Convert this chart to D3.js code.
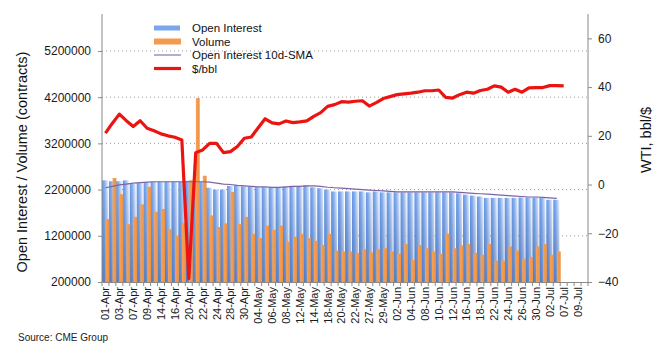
<!DOCTYPE html>
<html>
<head>
<meta charset="utf-8">
<script src="https://cdnjs.cloudflare.com/ajax/libs/d3/7.8.5/d3.min.js"></script>
<style>
  html, body { margin: 0; padding: 0; background: #fff; }
  svg { display: block; font-family: 'Liberation Sans', Arial, sans-serif; }
</style>
</head>
<body>
<svg id="chart" width="661" height="352"></svg>
<script>
// trading days on the x axis (last one is an empty slot)
const dates = [
  '01-Apr', '02-Apr', '03-Apr', '06-Apr', '07-Apr', '08-Apr', '09-Apr', '13-Apr', '14-Apr', '15-Apr',
  '16-Apr', '17-Apr', '20-Apr', '21-Apr', '22-Apr', '23-Apr', '24-Apr', '27-Apr', '28-Apr', '29-Apr',
  '30-Apr', '01-May', '04-May', '05-May', '06-May', '07-May', '08-May', '11-May', '12-May', '13-May',
  '14-May', '15-May', '18-May', '19-May', '20-May', '21-May', '22-May', '26-May', '27-May', '28-May',
  '29-May', '01-Jun', '02-Jun', '03-Jun', '04-Jun', '05-Jun', '08-Jun', '09-Jun', '10-Jun', '11-Jun',
  '12-Jun', '15-Jun', '16-Jun', '17-Jun', '18-Jun', '19-Jun', '22-Jun', '23-Jun', '24-Jun', '25-Jun',
  '26-Jun', '29-Jun', '30-Jun', '01-Jul', '02-Jul', '06-Jul', '07-Jul', '08-Jul', '09-Jul', '10-Jul',
];

const tickLabels = [
  '01-Apr', '03-Apr', '07-Apr', '09-Apr', '14-Apr', '16-Apr', '20-Apr', '22-Apr', '24-Apr', '28-Apr',
  '30-Apr', '04-May', '06-May', '08-May', '12-May', '14-May', '18-May', '20-May', '22-May', '27-May',
  '29-May', '02-Jun', '04-Jun', '08-Jun', '10-Jun', '12-Jun', '16-Jun', '18-Jun', '22-Jun', '24-Jun',
  '26-Jun', '30-Jun', '02-Jul', '07-Jul', '09-Jul',
];

const openInterest = [
  2400000, 2380000, 2380000, 2400000, 2320000, 2340000, 2360000, 2370000, 2370000, 2370000,
  2370000, 2370000, 2390000, 2380000, 2370000, 2240000, 2200000, 2200000, 2280000, 2290000,
  2270000, 2260000, 2250000, 2250000, 2250000, 2250000, 2260000, 2280000, 2280000, 2290000,
  2250000, 2230000, 2200000, 2160000, 2160000, 2160000, 2160000, 2160000, 2140000, 2160000,
  2140000, 2140000, 2140000, 2140000, 2140000, 2140000, 2140000, 2140000, 2140000, 2140000,
  2140000, 2120000, 2090000, 2070000, 2050000, 2020000, 2020000, 2020000, 2020000, 2020000,
  2030000, 2030000, 2030000, 2020000, 1980000, 1980000,
];

const volume = [
  1560000, 2450000, 2100000, 1450000, 1610000, 1880000, 2260000, 1720000, 1780000, 1340000,
  1200000, 1470000, 2400000, 4180000, 2500000, 1640000, 1390000, 1470000, 2150000, 1450000,
  1610000, 1240000, 1150000, 1420000, 1330000, 1420000, 1070000, 1180000, 1240000, 1150000,
  1090000, 1000000, 1240000, 880000, 860000, 860000, 830000, 910000, 840000, 910000,
  930000, 860000, 810000, 1020000, 680000, 1000000, 930000, 860000, 810000, 1250000,
  930000, 990000, 1020000, 830000, 790000, 1020000, 660000, 660000, 970000, 880000,
  700000, 740000, 970000, 1020000, 790000, 860000,
];

const oiSma = [
  2240000, 2270000, 2300000, 2320000, 2340000, 2350000, 2360000, 2370000, 2370000, 2370000,
  2370000, 2370000, 2370000, 2370000, 2370000, 2360000, 2340000, 2320000, 2310000, 2290000,
  2280000, 2270000, 2260000, 2260000, 2250000, 2250000, 2260000, 2270000, 2270000, 2280000,
  2280000, 2270000, 2250000, 2240000, 2230000, 2220000, 2210000, 2200000, 2190000, 2180000,
  2170000, 2160000, 2150000, 2150000, 2150000, 2150000, 2150000, 2150000, 2150000, 2150000,
  2150000, 2140000, 2130000, 2120000, 2110000, 2100000, 2090000, 2080000, 2070000, 2060000,
  2050000, 2040000, 2040000, 2030000, 2020000, 2010000,
];

// WTI $/bbl
const wti = [
  21.1, 25.2, 28.9, 26.2, 23.8, 26.2, 23.1, 22.1, 20.8, 20.0,
  19.4, 18.3, -38.6, 13.1, 14.2, 16.9, 16.9, 13.1, 13.5, 15.6,
  19.0, 19.5, 23.3, 27.0, 25.3, 24.9, 26.1, 25.4, 25.7, 26.1,
  28.0, 29.5, 32.1, 32.8, 34.0, 33.8, 34.2, 34.4, 32.2, 33.6,
  35.3, 36.1, 36.9, 37.2, 37.5, 37.9, 38.5, 38.5, 38.8, 35.8,
  35.5, 36.9, 37.9, 37.5, 38.6, 39.1, 40.5, 40.0, 37.9, 39.1,
  37.9, 39.7, 39.8, 39.8, 40.6, 40.6, 40.5,
];

const leftTicks = [200000, 1200000, 2200000, 3200000, 4200000, 5200000];
const rightTicks = [-40, -20, 0, 20, 40, 60];

const svg = d3.select('#chart');

const margin = { top: 14, right: 73, bottom: 70, left: 102 };
const width = +svg.attr('width') - margin.left - margin.right;
const height = +svg.attr('height') - margin.top - margin.bottom;

const g = svg.append('g').attr('transform', `translate(${margin.left}, ${margin.top})`);

// Scales
const x = d3.scaleBand().domain(dates).range([0, width]).padding(0);
const bw = x.bandwidth();
const yLeft = d3.scaleLinear().domain([200000, 6000000]).range([height, 0]);
const yRight = d3.scaleLinear().domain([-40, 70]).range([height, 0]);

// Gradients
const defs = svg.append('defs');
const oiGrad = defs.append('linearGradient').attr('id', 'oiGrad').attr('x1', 0).attr('x2', 1).attr('y1', 0).attr('y2', 0);
oiGrad.append('stop').attr('offset', '0%').attr('stop-color', '#6797e4');
oiGrad.append('stop').attr('offset', '40%').attr('stop-color', '#86afee');
oiGrad.append('stop').attr('offset', '100%').attr('stop-color', '#edf3fd');
const shade = defs.append('linearGradient').attr('id', 'oiShade').attr('x1', 0).attr('x2', 0).attr('y1', 0).attr('y2', 1);
shade.append('stop').attr('offset', '0%').attr('stop-color', '#2a4f96').attr('stop-opacity', 0);
shade.append('stop').attr('offset', '100%').attr('stop-color', '#2a4f96').attr('stop-opacity', 0.45);
const volGrad = defs.append('linearGradient').attr('id', 'volGrad').attr('x1', 0).attr('x2', 1).attr('y1', 0).attr('y2', 0);
volGrad.append('stop').attr('offset', '0%').attr('stop-color', '#f6a258');
volGrad.append('stop').attr('offset', '100%').attr('stop-color', '#ec9143');

// Gridlines
g.append('g')
  .selectAll('line')
  .data(leftTicks.slice(1))
  .enter()
  .append('line')
  .attr('x1', 0)
  .attr('x2', width)
  .attr('y1', (d) => yLeft(d))
  .attr('y2', (d) => yLeft(d))
  .attr('stroke', '#9a9a9a')
  .attr('stroke-width', 1)
  .attr('stroke-dasharray', '1,3');

// Open interest bars
const oiBars = g.append('g');
oiBars
  .selectAll('.oi')
  .data(openInterest)
  .enter()
  .append('rect')
  .attr('class', 'oi')
  .attr('x', (d, i) => x(dates[i]))
  .attr('y', (d) => yLeft(d))
  .attr('width', bw * 0.88)
  .attr('height', (d) => height - yLeft(d))
  .attr('fill', 'url(#oiGrad)');
oiBars
  .selectAll('.oiShade')
  .data(openInterest)
  .enter()
  .append('rect')
  .attr('class', 'oiShade')
  .attr('x', (d, i) => x(dates[i]))
  .attr('y', (d) => yLeft(d))
  .attr('width', bw * 0.88)
  .attr('height', (d) => height - yLeft(d))
  .attr('fill', 'url(#oiShade)');

// Volume bars
g.append('g')
  .selectAll('.vol')
  .data(volume)
  .enter()
  .append('rect')
  .attr('class', 'vol')
  .attr('x', (d, i) => x(dates[i]) + bw * 0.52)
  .attr('y', (d) => yLeft(d))
  .attr('width', bw * 0.55)
  .attr('height', (d) => height - yLeft(d))
  .attr('fill', 'url(#volGrad)');

// 10d SMA line
const smaLine = d3
  .line()
  .x((d, i) => x(dates[i]) + bw / 2)
  .y((d) => yLeft(d));
g.append('path')
  .datum(oiSma)
  .attr('d', smaLine)
  .attr('fill', 'none')
  .attr('stroke', '#7e62a6')
  .attr('stroke-width', 1.2);

// WTI line
const priceLine = d3
  .line()
  .x((d, i) => x(dates[i]) + bw / 2)
  .y((d) => yRight(d));
g.append('path')
  .datum(wti)
  .attr('d', priceLine)
  .attr('fill', 'none')
  .attr('stroke', '#ec1410')
  .attr('stroke-width', 3.2)
  .attr('stroke-linejoin', 'round');

// Axes
const axisColor = '#8a8a8a';
const styleAxis = (sel) => {
  sel.select('.domain').attr('stroke', axisColor);
  sel.selectAll('.tick line').attr('stroke', axisColor);
  sel.selectAll('.tick text').attr('fill', '#1a1a1a').style('font-size', '12px');
};

g.append('g')
  .call(d3.axisLeft(yLeft).tickValues(leftTicks).tickSize(4).tickSizeOuter(0).tickPadding(7).tickFormat(d3.format('d')))
  .call(styleAxis)
  .call((a) => a.select('.domain').attr('d', `M0,${height}V0`));

g.append('g')
  .attr('transform', `translate(${width}, 0)`)
  .call(d3.axisRight(yRight).tickValues(rightTicks).tickSize(4).tickSizeOuter(0).tickPadding(6))
  .call(styleAxis)
  .call((a) => a.select('.domain').attr('d', `M0,${height}V0`));

const xAxis = g
  .append('g')
  .attr('transform', `translate(0, ${height})`)
  .call(d3.axisBottom(x).tickSize(0).tickSizeOuter(0).tickFormat((d) => (tickLabels.includes(d) ? d : '')))
  .call(styleAxis);
xAxis
  .selectAll('.tick text')
  .attr('transform', 'rotate(-90)')
  .attr('text-anchor', 'end')
  .attr('x', -5)
  .attr('y', 0)
  .attr('dy', '0.36em')
  .style('font-size', '11px');

// category boundary ticks
xAxis
  .append('g')
  .selectAll('line')
  .data(d3.range(dates.length + 1))
  .enter()
  .append('line')
  .attr('x1', (d) => d * bw)
  .attr('x2', (d) => d * bw)
  .attr('y1', 0)
  .attr('y2', 4)
  .attr('stroke', axisColor);

// Axis titles
svg
  .append('text')
  .attr('transform', `translate(27, ${margin.top + height / 2 + 14}) rotate(-90)`)
  .attr('text-anchor', 'middle')
  .style('font-size', '14.5px')
  .attr('fill', '#111')
  .text('Open Interest / Volume (contracts)');

svg
  .append('text')
  .attr('transform', `translate(651, 140) rotate(-90)`)
  .attr('text-anchor', 'middle')
  .style('font-size', '14.5px')
  .attr('fill', '#111')
  .text('WTI, bbl/$');

// Legend
const legendItems = [
  { name: 'Open Interest', type: 'oi' },
  { name: 'Volume', type: 'vol' },
  { name: 'Open Interest 10d-SMA', type: 'sma' },
  { name: '$/bbl', type: 'price' },
];
const legend = svg.append('g').attr('transform', 'translate(154, 28)');
legendItems.forEach((item, i) => {
  const row = legend.append('g').attr('transform', `translate(0, ${i * 13.5})`);
  if (item.type === 'oi') {
    row.append('rect').attr('x', 0).attr('y', -2.5).attr('width', 26).attr('height', 5).attr('fill', '#7aa6ec');
  } else if (item.type === 'vol') {
    row.append('rect').attr('x', 0).attr('y', -3).attr('width', 27).attr('height', 6).attr('fill', '#f39a4e');
  } else if (item.type === 'sma') {
    row.append('line').attr('x1', 0).attr('x2', 27).attr('y1', 0).attr('y2', 0).attr('stroke', '#6e5a96').attr('stroke-width', 1);
  } else {
    row.append('line').attr('x1', 0).attr('x2', 27).attr('y1', 0).attr('y2', 0).attr('stroke', '#ec1410').attr('stroke-width', 3.2);
  }
  row
    .append('text')
    .attr('x', 38)
    .attr('y', 0)
    .attr('dy', '0.35em')
    .style('font-size', '11.5px')
    .attr('fill', '#111')
    .text(item.name);
});

// Source note
svg
  .append('text')
  .attr('x', 18)
  .attr('y', 341)
  .style('font-size', '10px')
  .attr('fill', '#222')
  .text('Source: CME Group');
</script>
</body>
</html>
